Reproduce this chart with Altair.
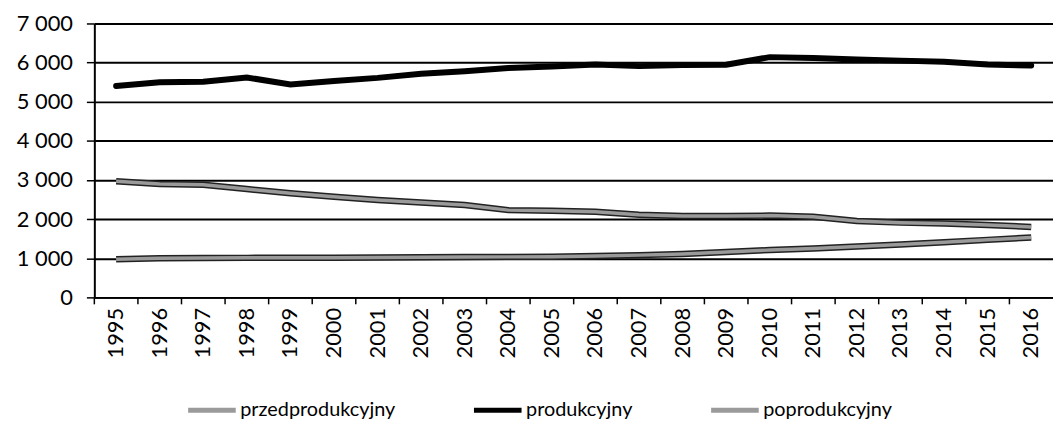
import altair as alt
import pandas as pd

years = [str(y) for y in range(1995, 2017)]
przedprodukcyjny = [2970, 2900, 2880, 2770, 2660, 2570, 2490, 2425, 2360, 2230, 2215, 2190,
                    2110, 2080, 2080, 2090, 2060, 1950, 1910, 1890, 1850, 1800]
produkcyjny = [5400, 5500, 5510, 5620, 5440, 5530, 5610, 5715, 5780, 5860, 5900, 5950,
               5910, 5935, 5945, 6140, 6120, 6080, 6050, 6020, 5950, 5925]
poprodukcyjny = [975, 1000, 1005, 1010, 1015, 1015, 1020, 1025, 1030, 1035, 1040, 1060,
                 1080, 1110, 1160, 1210, 1250, 1300, 1350, 1410, 1470, 1530]
series_names = ["przedprodukcyjny", "produkcyjny", "poprodukcyjny"]

rows = []
for name, vals in zip(series_names, [przedprodukcyjny, produkcyjny, poprodukcyjny]):
    for y, v in zip(years, vals):
        rows.append({"rok": y, "wartosc": v, "seria": name})
df = pd.DataFrame(rows)
ticks_df = pd.DataFrame({"rok": years})

FONT = "Lato"

x_enc = alt.X("rok:N", sort=years,
              scale=alt.Scale(paddingInner=0, paddingOuter=0),
              axis=alt.Axis(title=None, labelAngle=270, labelFontSize=22, labelFont=FONT,
                            labelColor="black", ticks=False, labelPadding=10,
                            domainColor="black", domainWidth=2))
y_enc = alt.Y("wartosc:Q",
              scale=alt.Scale(domain=[0, 7000], nice=False),
              axis=alt.Axis(title=None, values=[0, 1000, 2000, 3000, 4000, 5000, 6000, 7000],
                            labelExpr="replace(format(datum.value, ',d'), ',', ' ')",
                            labelFontSize=22, labelFont=FONT, labelColor="black",
                            grid=True, gridColor="black", gridWidth=2, gridOpacity=1,
                            tickColor="black", tickSize=8, tickWidth=1.5,
                            labelPadding=14, domainColor="black", domainWidth=2))

color_scale = alt.Scale(domain=series_names, range=["#9a9a9a", "black", "#9a9a9a"])
legend = alt.Legend(title=None, orient="none", direction="horizontal",
                    legendX=92, legendY=363, symbolType="stroke", symbolSize=2300,
                    symbolStrokeWidth=5, labelFontSize=20, labelFont=FONT,
                    labelColor="black", columnPadding=68, labelOffset=2)

gray_df = df[df["seria"] != "produkcyjny"]
prod_df = df[df["seria"] == "produkcyjny"]

outline = alt.Chart(gray_df).mark_line(color="#222222", strokeWidth=6.5).encode(
    x=x_enc, y=y_enc, detail="seria:N")
inner = alt.Chart(gray_df).mark_line(strokeWidth=3.5).encode(
    x=x_enc, y=y_enc,
    color=alt.Color("seria:N", scale=color_scale, legend=legend, sort=series_names))
prod = alt.Chart(prod_df).mark_line(strokeWidth=6, strokeCap="round").encode(
    x=x_enc, y=y_enc,
    color=alt.Color("seria:N", scale=color_scale, legend=legend, sort=series_names))
xticks = alt.Chart(ticks_df).mark_rule(color="black", strokeWidth=1.5).encode(
    x=alt.X("rok:N", sort=years, bandPosition=0), y=alt.value(276), y2=alt.value(283))

chart = alt.layer(outline, inner, prod, xticks).properties(
    width=966, height=276,
    autosize=alt.AutoSizeParams(type="none"),
    padding={"left": 87, "top": 14, "right": 0, "bottom": 126},
    background="white",
).configure_view(stroke=None)

chart.save("out.html", embed_options={"renderer": "svg", "actions": False})
